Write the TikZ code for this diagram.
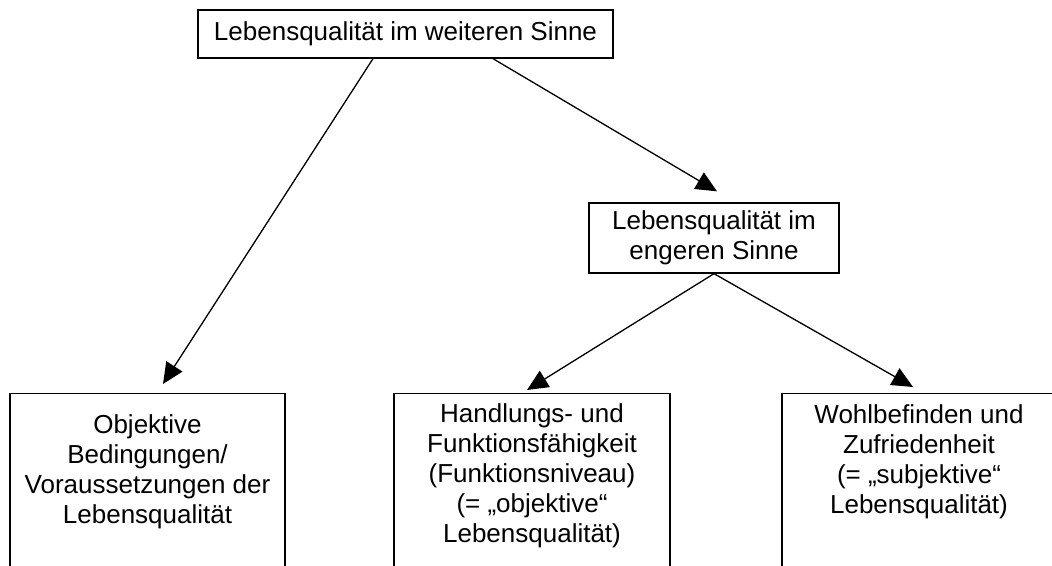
\documentclass[tikz,border=0pt]{standalone}
\usepackage{fontspec}
\setmainfont{Liberation Sans}
\usetikzlibrary{arrows.meta}
\begin{document}
\begin{tikzpicture}[x=1pt,y=-1pt,
  box/.style={draw,line width=1.3pt,inner xsep=0pt,align=center,
    font=\fontsize{26}{30}\selectfont},
  openbox/.style={box,anchor=north,text depth=200pt},
  link/.style={line width=1.3pt,-{Triangle[length=21pt,width=19pt]}}]
  \useasboundingbox (0,0) rectangle (1052,565);
  \clip (0,0) rectangle (1052,565);

  % general and narrower notion
  \node[box,minimum width=415pt,minimum height=48pt,inner ysep=0pt] (top) at (405.5,34)
    {Lebensqualität im weiteren Sinne};
  \node[box,minimum width=250pt,minimum height=70pt,inner ysep=0pt] (mid) at (714,238)
    {Lebensqualität im\\engeren Sinne};

  % lower row, open at the bottom (height = first line + 30pt per further line)
  \node[openbox,minimum width=275pt,inner ysep=21pt,text height=109pt] (cond) at (147.5,393)
    {Objektive\\Bedingungen/\\Voraussetzungen der\\Lebensqualität};
  \node[openbox,minimum width=276pt,inner ysep=10pt,text height=139pt] (func) at (532,393)
    {Handlungs- und\\Funktionsfähigkeit\\(Funktionsniveau)\\(= „objektive“\\Lebensqualität)};
  \node[openbox,minimum width=274pt,inner ysep=11pt,text height=109pt] (well) at (919,393)
    {Wohlbefinden und\\Zufriedenheit\\(= „subjektive“\\Lebensqualität)};

  % connectors
  \draw[link] ([xshift=-32.5pt]top.south) -- ([xshift=15.5pt,yshift=9pt]cond.north);
  \draw[link] ([xshift=87.5pt]top.south) -- ([xshift=3pt,yshift=11pt]mid.north);
  \draw[link] (mid.south) -- ([xshift=-5pt,yshift=3pt]func.north);
  \draw[link] (mid.south) -- ([xshift=-6pt,yshift=6pt]well.north);
\end{tikzpicture}
\end{document}
